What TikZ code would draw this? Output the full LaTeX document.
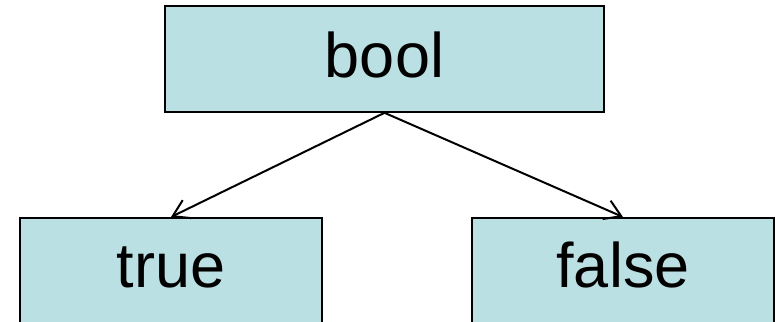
\documentclass[tikz,border=0pt]{standalone}
\usepackage{fontspec}
\setmainfont{Liberation Sans}
\usepackage{tikz}
\usetikzlibrary{arrows.meta}
\definecolor{boxfill}{RGB}{187,224,227}

\begin{document}
\begin{tikzpicture}[x=1pt,y=-1pt,
        typebox/.style={draw,fill=boxfill,line width=1.8pt,inner sep=0pt,
          font=\fontsize{63}{70}\selectfont,text depth=34pt,text height=72pt},
        valbox/.style={typebox,minimum width=302pt,text height=70pt,text depth=36pt},
        edge/.style={line width=2pt,-{Straight Barb[length=16pt,width=20pt]}}]
        \useasboundingbox (0,0) rectangle (775,321);
        \node[typebox,minimum width=439pt,anchor=north] (bool) at (384.5,5) {bool};
        \node[valbox,anchor=north] (true) at (171,217) {true};
        \node[valbox,anchor=north] (false) at (623,217) {false};
        \draw[edge] (bool.south) -- (true.north);
        \draw[edge] (bool.south) -- (false.north);
        \end{tikzpicture}
\end{document}
